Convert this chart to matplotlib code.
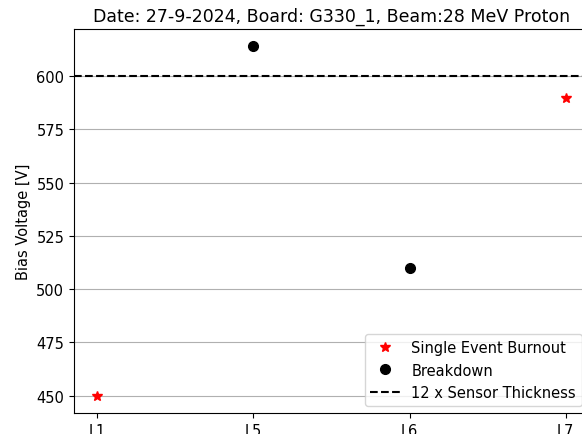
import numpy as np
import matplotlib
matplotlib.use('Agg')
import matplotlib.pyplot as plt

layers = ['L1', 'L5', 'L6', 'L7']

# single event burnout
seb_layers = ['L1', 'L7']
seb_voltage = [450, 590]

# breakdown
bd_layers = ['L5', 'L6']
bd_voltage = [614, 510]

sensor_limit = 600  # 12 x sensor thickness

x_pos = {name: i for i, name in enumerate(layers)}

plt.rcParams['font.size'] = 10.5

fig = plt.figure(figsize=(5.82, 4.35), dpi=100)
# axes runs off the right and bottom edges like the original crop
ax = fig.add_axes([74 / 582, (435 - 414) / 435, 515 / 582, 384 / 435])

ax.plot([x_pos[l] for l in seb_layers], seb_voltage, 'r*', markersize=7.5, linestyle='none',
        label='Single Event Burnout')
ax.plot([x_pos[l] for l in bd_layers], bd_voltage, 'ko', markersize=7, linestyle='none',
        label='Breakdown')
ax.axhline(sensor_limit, color='black', linestyle='--', label='12 x Sensor Thickness')

ax.set_xticks(range(len(layers)))
ax.set_xticklabels(layers)
ax.set_xlim(-0.15, len(layers) - 1 + 0.15)
ax.set_ylim(441.8, 622.2)
ax.grid(axis='y')
ax.set_ylabel('Bias Voltage [V]')
ax.set_title('Date: 27-9-2024, Board: G330_1, Beam:28 MeV Proton', fontsize=12.5)
ax.legend(loc='lower right', fontsize=10.5)

fig.savefig('out.png', dpi=100)
